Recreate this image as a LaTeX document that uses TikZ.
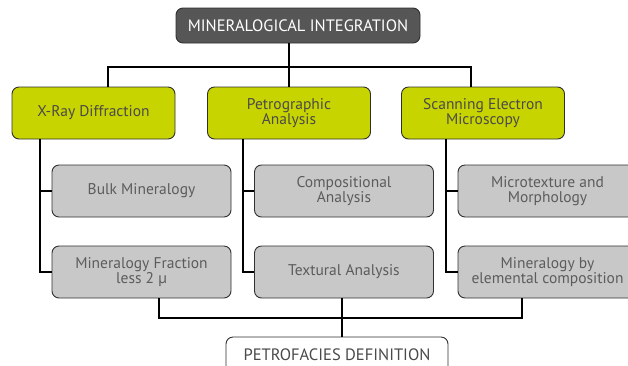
\documentclass[tikz,border=0pt]{standalone}
\usepackage{fontspec}
\setmainfont{PT Sans}
\definecolor{topgray}{HTML}{565656}
\definecolor{lime}{HTML}{C8D400}
\definecolor{boxgray}{HTML}{C8C8C8}
\definecolor{txtgray}{HTML}{4A4A4A}
\definecolor{bordergray}{HTML}{303030}
\tikzset{
  base/.style={draw=bordergray, line width=0.9pt, rounded corners=7pt, align=center,
    inner sep=0pt, font=\fontsize{15.5}{15}\selectfont},
  capsfont/.style={font=\fontsize{16.5}{16}\selectfont},
  topbox/.style={base, capsfont, fill=topgray, text=white, minimum width=244pt, minimum height=35pt},
  methodbox/.style={base, fill=lime, text=txtgray, minimum width=163pt, minimum height=52pt},
  subbox/.style={base, fill=boxgray, text=txtgray!90, minimum width=179pt, minimum height=52pt},
  endbox/.style={base, capsfont, fill=white, text=txtgray, minimum width=222pt, minimum height=36pt},
  link/.style={draw=black, line width=1.2pt},
}
\begin{document}
\begin{tikzpicture}[x=1pt, y=-1pt]
\useasboundingbox (0,0) rectangle (628,365);
% nodes
\node[topbox] (top) at (298,25.5) {MINERALOGICAL INTEGRATION};
\node[methodbox] (xrd) at (93.5,113) {X-Ray Diffraction};
\node[methodbox] (petro) at (289,113) {Petrographic\\Analysis};
\node[methodbox] (sem) at (483,113) {Scanning Electron\\Microscopy};
\node[subbox] (bulk) at (141.5,191) {Bulk Mineralogy};
\node[subbox] (frac) at (141.5,272) {Mineralogy Fraction\\less 2 µ};
\node[subbox] (comp) at (344,191) {Compositional\\Analysis};
\node[subbox] (tex) at (344,272) {Textural Analysis};
\node[subbox] (micro) at (547.5,191) {Microtexture and\\Morphology};
\node[subbox] (elem) at (547.5,272) {Mineralogy by\\elemental composition};
\node[endbox] (petrof) at (337,355) {PETROFACIES DEFINITION};
% coordinates
\coordinate (hl) at (108,67);
\coordinate (hr) at (471,67);
\coordinate (hm) at (289,67);
\coordinate (bl) at (159,318);
\coordinate (br) at (522,318);
% top connectors
\draw[link] (top.south -| hm) -- (petro.north -| hm);
\draw[link] (xrd.north -| hl) -- (hl) -- (hr) -- (sem.north -| hr);
% side spines
\draw[link] (xrd.south -| 40,0) |- (frac.west);
\draw[link] (40,191) -- (bulk.west);
\draw[link] (petro.south -| 243,0) |- (tex.west);
\draw[link] (243,191) -- (comp.west);
\draw[link] (sem.south -| 446,0) |- (elem.west);
\draw[link] (446,191) -- (micro.west);
% bottom connectors
\draw[link] (frac.south -| bl) -- (bl) -- (br) -- (elem.south -| br);
\draw[link] (tex.south -| 342,0) -- (petrof.north -| 342,0);
\end{tikzpicture}
\end{document}
